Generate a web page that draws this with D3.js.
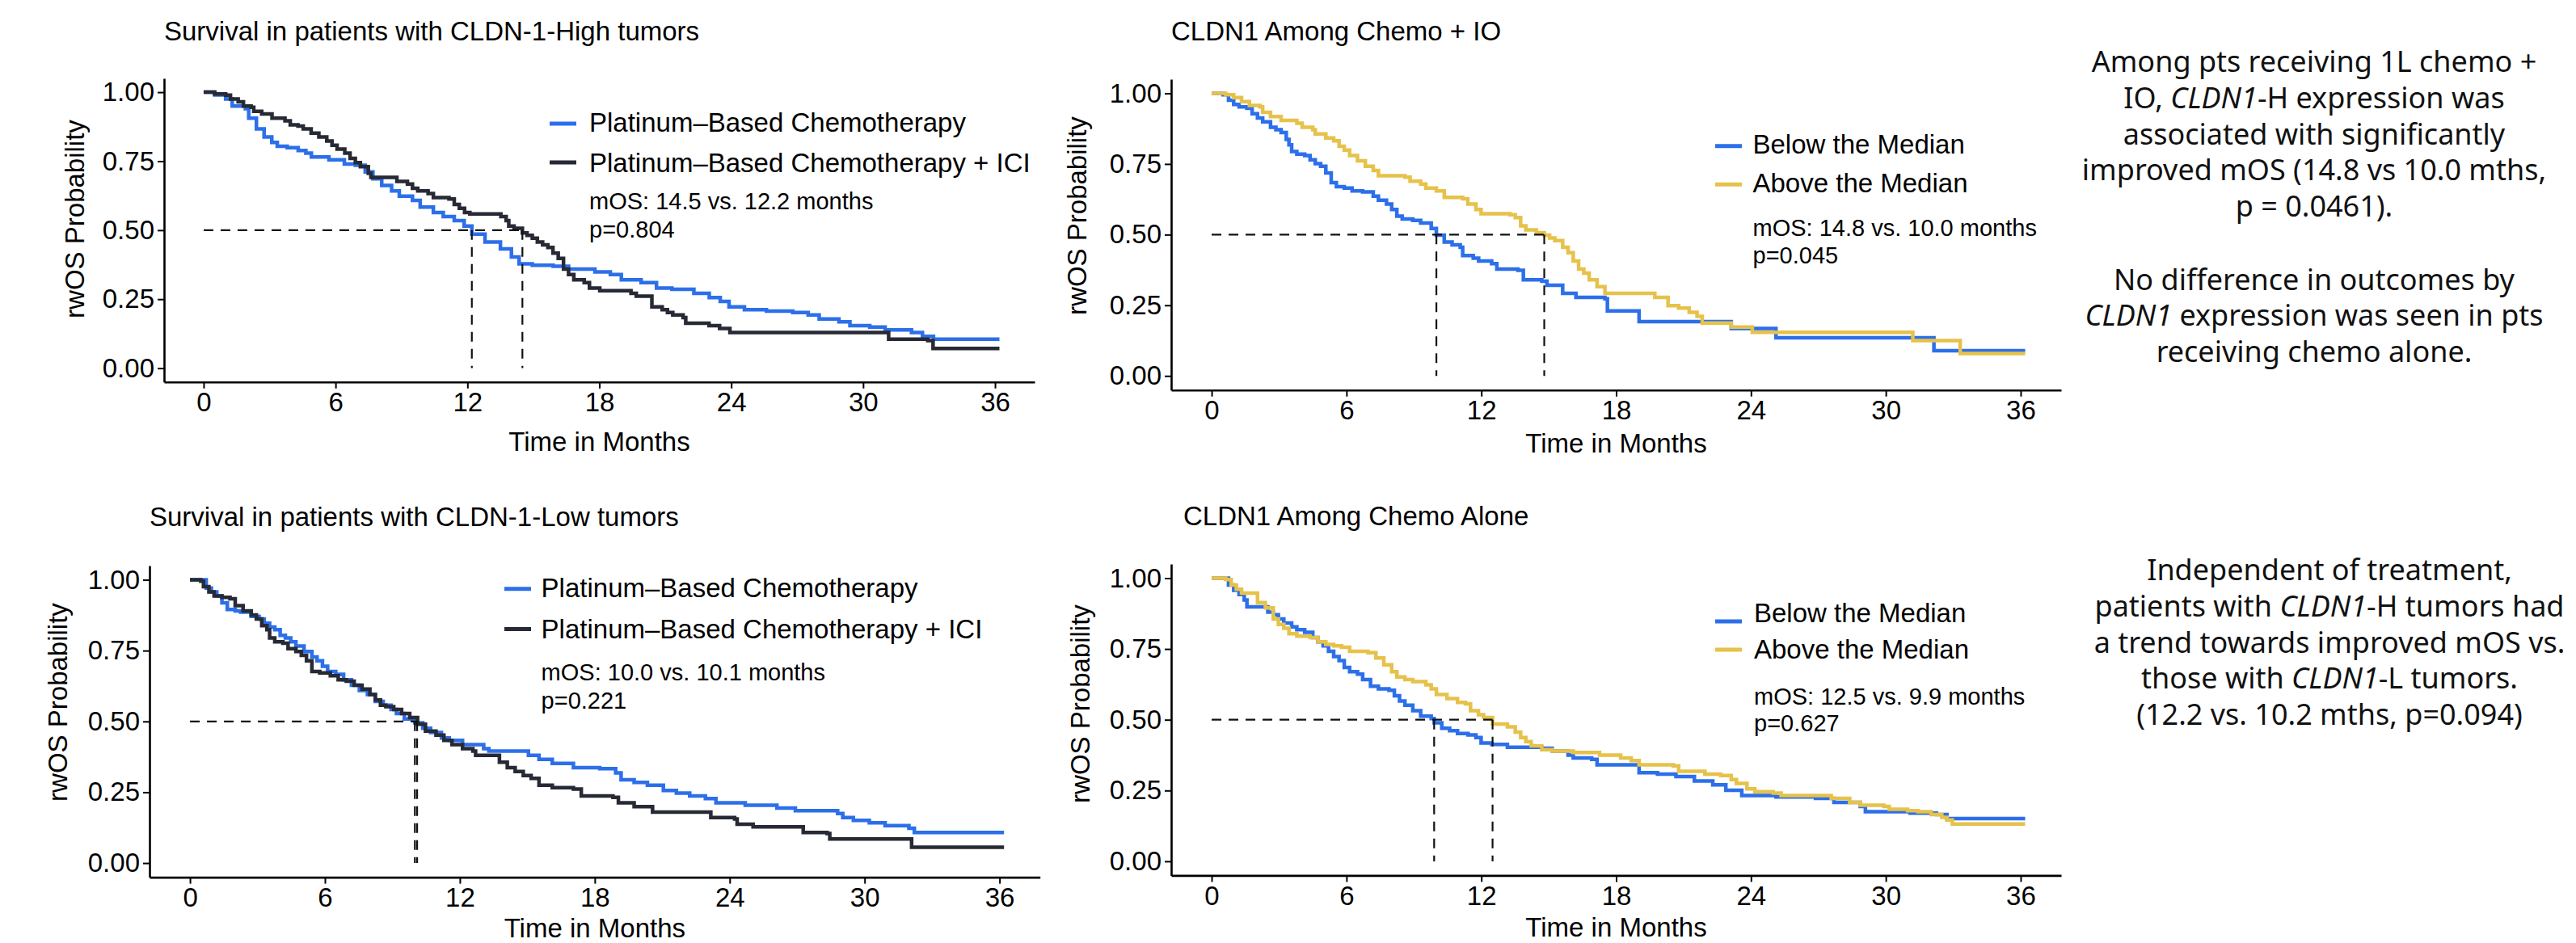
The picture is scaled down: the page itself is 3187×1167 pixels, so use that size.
<!DOCTYPE html>
<html>
<head>
<meta charset="utf-8">
<script src="https://cdn.jsdelivr.net/npm/d3@7"></script>
<style>
  body { margin: 0; background: #fff; }
  svg { display: block; }
</style>
</head>
<body>
<svg id="fig" width="3187" height="1167"></svg>
<script>
// tick labels
const months = [0, 6, 12, 18, 24, 30, 36];
const probTicks = [0, 0.25, 0.5, 0.75, 1];

// [month, survival] steps
// CLDN-1-High tumors
const hiChemo = [[0,1],[0.5,0.99],[1.0,0.975],[1.3,0.95],[1.9,0.94],[2.05,0.906],[2.4,0.867],[2.75,0.838],[3.1,0.818],[3.35,0.804],[3.8,0.799],[4.3,0.789],[4.65,0.779],[4.9,0.765],[5.7,0.755],[6.4,0.74],[6.9,0.735],[7.35,0.711],[7.7,0.686],[8.1,0.662],[8.55,0.642],[8.9,0.623],[9.5,0.608],[9.85,0.584],[10.45,0.564],[10.9,0.549],[11.4,0.535],[11.85,0.515],[12.2,0.486],[12.8,0.457],[13.5,0.432],[14.0,0.403],[14.35,0.378],[14.95,0.373],[15.9,0.369],[16.6,0.359],[17.8,0.349],[18.5,0.339],[19.0,0.32],[19.9,0.31],[20.6,0.29],[21.3,0.286],[22.3,0.271],[23.0,0.256],[23.5,0.242],[23.9,0.222],[24.6,0.212],[25.6,0.207],[26.8,0.202],[27.5,0.193],[28.0,0.178],[28.9,0.168],[29.4,0.154],[30.3,0.149],[31.0,0.139],[32.2,0.129],[32.7,0.115],[33.2,0.105],[36.2,0.105]];
const hiChemoICI = [[0,1],[0.5,0.994],[1.0,0.989],[1.22,0.975],[1.57,0.965],[1.81,0.95],[2.16,0.945],[2.28,0.931],[2.64,0.921],[3.11,0.906],[3.7,0.896],[3.94,0.882],[4.29,0.877],[4.53,0.867],[4.89,0.852],[5.24,0.838],[5.6,0.823],[5.84,0.808],[6.07,0.794],[6.42,0.779],[6.66,0.76],[6.9,0.745],[7.13,0.73],[7.49,0.706],[7.61,0.691],[8.79,0.677],[9.27,0.667],[9.5,0.652],[9.74,0.642],[10.21,0.633],[10.45,0.618],[11.16,0.613],[11.4,0.593],[11.63,0.579],[11.87,0.564],[12.11,0.559],[13.52,0.549],[13.76,0.535],[13.88,0.515],[14.12,0.507],[14.5,0.49],[14.71,0.481],[14.95,0.471],[15.18,0.457],[15.42,0.447],[15.66,0.437],[15.89,0.417],[16.13,0.398],[16.37,0.359],[16.6,0.339],[16.84,0.32],[17.31,0.31],[17.55,0.29],[18.02,0.281],[19.44,0.271],[19.68,0.261],[20.39,0.222],[20.86,0.212],[21.1,0.202],[21.34,0.193],[21.81,0.183],[21.93,0.163],[22.99,0.154],[23.47,0.144],[23.94,0.129],[31.16,0.105],[32.94,0.1],[33.18,0.071],[36.2,0.071]];
const hiMedians = [12.2, 14.5];

// CLDN1 among chemo + IO
const ioBelow = [[0,1],[0.51,0.995],[0.75,0.976],[0.98,0.961],[1.22,0.952],[1.57,0.947],[1.8,0.928],[2.04,0.913],[2.27,0.899],[2.62,0.88],[2.86,0.871],[3.09,0.861],[3.32,0.837],[3.44,0.818],[3.56,0.794],[3.79,0.785],[4.14,0.78],[4.38,0.765],[4.61,0.751],[4.85,0.742],[5.08,0.718],[5.32,0.684],[5.55,0.67],[5.9,0.665],[6.25,0.655],[6.72,0.651],[7.19,0.636],[7.42,0.622],[7.78,0.608],[8.01,0.589],[8.24,0.565],[8.48,0.555],[8.95,0.55],[9.3,0.541],[9.77,0.522],[10.0,0.498],[10.35,0.474],[10.7,0.464],[11.06,0.455],[11.17,0.426],[11.64,0.417],[11.88,0.407],[12.46,0.397],[12.69,0.378],[13.63,0.374],[13.87,0.34],[14.69,0.335],[14.92,0.321],[15.62,0.292],[16.21,0.278],[17.5,0.273],[17.61,0.23],[19.02,0.192],[23.12,0.168],[25.11,0.135],[32.14,0.089],[36.2,0.089]];
const ioAbove = [[0,1],[0.63,0.995],[0.98,0.985],[1.33,0.971],[1.68,0.957],[2.15,0.952],[2.27,0.933],[2.62,0.918],[3.09,0.904],[3.79,0.894],[4.03,0.88],[4.5,0.871],[4.61,0.856],[5.08,0.842],[5.43,0.832],[5.67,0.813],[5.9,0.799],[6.14,0.78],[6.49,0.761],[6.84,0.742],[7.19,0.727],[7.42,0.708],[8.6,0.703],[8.83,0.689],[9.3,0.679],[9.53,0.665],[10.0,0.655],[10.35,0.632],[11.17,0.627],[11.4,0.608],[11.76,0.589],[11.99,0.574],[13.28,0.57],[13.51,0.56],[13.75,0.531],[13.98,0.517],[14.45,0.507],[14.8,0.498],[15.04,0.488],[15.27,0.479],[15.62,0.455],[15.86,0.436],[16.09,0.407],[16.33,0.378],[16.56,0.364],[16.8,0.34],[17.15,0.316],[17.5,0.292],[19.72,0.278],[20.31,0.249],[20.78,0.24],[21.25,0.225],[21.6,0.211],[21.83,0.187],[23.12,0.173],[24.06,0.154],[31.2,0.125],[33.31,0.079],[36.2,0.079]];
const ioMedians = [10.0, 14.8];

// CLDN-1-Low tumors
const loChemo = [[0,1],[0.72,0.971],[0.95,0.957],[1.19,0.943],[1.42,0.919],[1.66,0.895],[2.01,0.89],[2.25,0.886],[2.72,0.871],[3.07,0.862],[3.3,0.847],[3.54,0.833],[3.77,0.824],[4.01,0.804],[4.24,0.795],[4.48,0.781],[4.71,0.766],[5.07,0.747],[5.42,0.728],[5.65,0.714],[5.89,0.695],[6.12,0.676],[6.48,0.666],[6.83,0.647],[7.18,0.628],[7.53,0.609],[7.89,0.595],[8.24,0.571],[8.59,0.557],[8.94,0.542],[9.18,0.528],[9.53,0.509],[10.0,0.495],[10.35,0.476],[10.7,0.461],[11.18,0.442],[11.53,0.433],[12.12,0.418],[13.06,0.404],[13.29,0.395],[15.05,0.38],[15.52,0.366],[16.11,0.352],[17.05,0.337],[18.22,0.333],[18.93,0.318],[19.17,0.294],[19.75,0.285],[20.34,0.275],[21.05,0.256],[21.63,0.247],[22.22,0.237],[22.92,0.228],[23.39,0.213],[24.69,0.204],[26.1,0.194],[26.92,0.185],[28.8,0.175],[29.03,0.161],[29.5,0.151],[30.21,0.142],[30.91,0.132],[31.97,0.123],[32.21,0.108],[36.2,0.108]];
const loChemoICI = [[0,1],[0.48,0.995],[0.6,0.976],[0.84,0.957],[1.07,0.943],[1.42,0.938],[1.78,0.933],[2.01,0.909],[2.36,0.89],[2.72,0.876],[2.95,0.862],[3.19,0.838],[3.42,0.824],[3.54,0.795],[3.77,0.781],[4.13,0.776],[4.36,0.757],[4.71,0.747],[4.95,0.733],[5.18,0.714],[5.42,0.676],[5.77,0.671],[6.24,0.661],[6.59,0.647],[6.95,0.642],[7.3,0.628],[7.65,0.614],[8.0,0.595],[8.24,0.576],[8.47,0.557],[8.71,0.552],[9.06,0.542],[9.41,0.528],[9.77,0.514],[10.12,0.49],[10.47,0.466],[10.94,0.452],[11.29,0.433],[11.65,0.418],[12.12,0.404],[12.58,0.395],[12.7,0.38],[13.76,0.356],[14.11,0.337],[14.46,0.323],[14.82,0.309],[15.17,0.299],[15.52,0.275],[16.11,0.266],[17.05,0.261],[17.4,0.237],[18.81,0.232],[19.05,0.213],[19.75,0.199],[20.57,0.18],[23.16,0.161],[24.22,0.156],[24.33,0.137],[25.04,0.128],[27.27,0.108],[28.33,0.104],[28.45,0.085],[32.09,0.056],[36.2,0.056]];
const loMedians = [10.0, 10.1];

// CLDN1 among chemo alone
const chemoBelow = [[0,1],[0.75,0.976],[0.98,0.957],[1.22,0.942],[1.45,0.923],[1.57,0.899],[2.5,0.88],[2.74,0.871],[2.97,0.856],[3.21,0.842],[3.56,0.828],[3.79,0.818],[4.14,0.809],[4.5,0.79],[4.73,0.775],[4.96,0.761],[5.2,0.742],[5.43,0.723],[5.67,0.709],[5.9,0.685],[6.14,0.67],[6.49,0.661],[6.72,0.642],[7.07,0.618],[7.42,0.609],[7.89,0.604],[8.13,0.585],[8.36,0.566],[8.6,0.551],[8.95,0.532],[9.3,0.513],[9.77,0.504],[9.9,0.489],[10.24,0.47],[10.59,0.461],[10.94,0.451],[11.41,0.446],[11.76,0.437],[11.99,0.418],[12.46,0.413],[13.16,0.403],[14.69,0.399],[15.15,0.389],[15.86,0.375],[16.09,0.365],[16.91,0.36],[17.15,0.341],[19.02,0.313],[19.84,0.308],[20.66,0.299],[21.48,0.284],[22.3,0.27],[22.88,0.251],[23.59,0.232],[25.11,0.227],[26.87,0.222],[27.69,0.208],[28.86,0.194],[29.09,0.175],[31.08,0.17],[32.25,0.165],[32.72,0.151],[36.2,0.151]];
const chemoAbove = [[0,1],[0.63,0.995],[0.87,0.976],[1.1,0.961],[1.33,0.947],[2.04,0.914],[2.39,0.895],[2.74,0.856],[2.97,0.837],[3.21,0.823],[3.44,0.804],[3.79,0.795],[4.38,0.79],[4.73,0.775],[5.08,0.766],[5.43,0.761],[5.78,0.756],[6.14,0.742],[6.96,0.737],[7.31,0.718],[7.66,0.694],[8.01,0.67],[8.24,0.651],[8.6,0.642],[8.95,0.635],[9.53,0.623],[9.77,0.609],[10.0,0.589],[10.47,0.575],[10.94,0.561],[11.29,0.556],[11.52,0.532],[11.87,0.518],[12.1,0.508],[12.5,0.485],[13.16,0.475],[13.51,0.456],[13.75,0.437],[13.98,0.423],[14.22,0.408],[14.69,0.394],[15.15,0.389],[16.09,0.384],[17.26,0.375],[18.2,0.365],[18.67,0.356],[19.02,0.341],[20.54,0.337],[20.78,0.318],[21.95,0.308],[22.65,0.303],[23.12,0.289],[23.35,0.275],[23.82,0.256],[24.17,0.246],[24.99,0.241],[25.34,0.232],[27.57,0.222],[28.39,0.208],[28.86,0.198],[29.91,0.194],[30.15,0.184],[30.97,0.179],[31.43,0.175],[32.02,0.165],[32.49,0.155],[32.72,0.146],[32.96,0.132],[36.2,0.132]];
const chemoMedians = [9.9, 12.5];

const treatLabels = ['Platinum\u2013Based Chemotherapy', 'Platinum\u2013Based Chemotherapy + ICI'];
const exprLabels = ['Below the Median', 'Above the Median'];

// side notes, *...* = italic
const note1 = ['Among pts receiving 1L chemo +', 'IO, *CLDN1*-H expression was', 'associated with significantly', 'improved mOS (14.8 vs 10.0 mths,', 'p = 0.0461).'];
const note2 = ['No difference in outcomes by', '*CLDN1* expression was seen in pts', 'receiving chemo alone.'];
const note3 = ['Independent of treatment,', 'patients with *CLDN1*-H tumors had', 'a trend towards improved mOS vs.', 'those with *CLDN1*-L tumors.', '(12.2 vs. 10.2 mths, p=0.094)'];

const BLUE = '#2c6fe9', DARK = '#272a35', GOLD = '#e6c24b';
const FONT = '"Liberation Sans", Arial, Helvetica, sans-serif';

const svg = d3.select('#fig');

const panels = [
  { box: [203, 1280, 97, 472.7], title: 'Survival in patients with CLDN-1-High tumors', titlePos: [203, 50],
    series: [hiChemo, hiChemoICI], colors: [BLUE, DARK], labels: treatLabels, medians: hiMedians,
    yLab: [103.5, 271], xLabY: 558,
    keyX: 680, keyY: [153, 201], legX: 729, legY: [163, 213],
    notes: ['mOS: 14.5 vs. 12.2 months', 'p=0.804'], noteY: [259, 294] },
  { box: [1449, 2550, 98, 482.7], title: 'CLDN1 Among Chemo + IO', titlePos: [1449, 50],
    series: [ioBelow, ioAbove], colors: [BLUE, GOLD], labels: exprLabels, medians: ioMedians,
    yLab: [1344, 267], xLabY: 560,
    keyX: 2122, keyY: [180.7, 228.3], legX: 2168.5, legY: [189.5, 237.5],
    notes: ['mOS: 14.8 vs. 10.0 months', 'p=0.045'], noteY: [292, 325.5] },
  { box: [185, 1286.7, 700, 1085.6], title: 'Survival in patients with CLDN-1-Low tumors', titlePos: [185, 650.6],
    series: [loChemo, loChemoICI], colors: [BLUE, DARK], labels: treatLabels, medians: loMedians,
    yLab: [83.4, 869], xLabY: 1160,
    keyX: 624, keyY: [728.7, 778.6], legX: 669.6, legY: [738.7, 789.7],
    notes: ['mOS: 10.0 vs. 10.1 months', 'p=0.221'], noteY: [842.2, 877.4] },
  { box: [1449, 2550, 698, 1083.4], title: 'CLDN1 Among Chemo Alone', titlePos: [1464, 650],
    series: [chemoBelow, chemoAbove], colors: [BLUE, GOLD], labels: exprLabels, medians: chemoMedians,
    yLab: [1348, 871], xLabY: 1158.5,
    keyX: 2122, keyY: [769, 804], legX: 2170, legY: [770, 815],
    notes: ['mOS: 12.5 vs. 9.9 months', 'p=0.627'], noteY: [871.7, 905] }
];

panels.forEach(drawPanel);

function drawPanel(p) {
  const [left, right, top, bottom] = p.box;
  const x = d3.scaleLinear().domain([-1.8, 37.8]).range([left, right]);
  const y = d3.scaleLinear().domain([-0.05, 1.05]).range([bottom, top]);
  const g = svg.append('g');

  g.append('text')
    .attr('x', p.titlePos[0]).attr('y', p.titlePos[1])
    .style('font-family', FONT).style('font-size', '33px')
    .text(p.title);

  const line = d3.line().x(d => x(d[0])).y(d => y(d[1])).curve(d3.curveStepAfter);
  p.series.forEach((s, i) => {
    g.append('path').datum(s)
      .attr('d', line)
      .attr('fill', 'none')
      .attr('stroke', p.colors[i])
      .attr('stroke-width', 4.5);
  });

  // median guides
  const dash = g.append('g').attr('stroke', '#111').attr('stroke-width', 2.2).attr('stroke-dasharray', '12,9');
  dash.append('line')
    .attr('x1', x(0)).attr('x2', x(d3.max(p.medians)))
    .attr('y1', y(0.5)).attr('y2', y(0.5));
  dash.selectAll('line.v').data(p.medians).enter().append('line')
    .attr('class', 'v')
    .attr('x1', d => x(d)).attr('x2', d => x(d))
    .attr('y1', y(0.5)).attr('y2', y(0));

  const xAxis = g.append('g')
    .attr('transform', `translate(0,${bottom})`)
    .call(d3.axisBottom(x).tickValues(months).tickSize(8).tickSizeOuter(0).tickPadding(5));
  const yAxis = g.append('g')
    .attr('transform', `translate(${left},0)`)
    .call(d3.axisLeft(y).tickValues(probTicks).tickFormat(d3.format('.2f')).tickSize(8).tickSizeOuter(0).tickPadding(4));
  [xAxis, yAxis].forEach(a => {
    a.attr('font-family', FONT).attr('font-size', 33);
    a.select('.domain').attr('stroke', '#000').attr('stroke-width', 2.6);
    a.selectAll('.tick line').attr('stroke', '#000').attr('stroke-width', 2);
    a.selectAll('.tick text').attr('fill', '#000');
  });

  g.append('text')
    .attr('x', x(18)).attr('y', p.xLabY)
    .attr('text-anchor', 'middle')
    .style('font-family', FONT).style('font-size', '33px')
    .text('Time in Months');

  g.append('text')
    .attr('transform', `translate(${p.yLab[0]},${p.yLab[1]}) rotate(-90)`)
    .attr('text-anchor', 'middle')
    .style('font-family', FONT).style('font-size', '33px')
    .text('rwOS Probability');

  // legend
  p.labels.forEach((lab, i) => {
    g.append('line')
      .attr('x1', p.keyX).attr('x2', p.keyX + 33)
      .attr('y1', p.keyY[i]).attr('y2', p.keyY[i])
      .attr('stroke', p.colors[i]).attr('stroke-width', 5);
    g.append('text')
      .attr('x', p.legX).attr('y', p.legY[i])
      .style('font-family', FONT).style('font-size', '33px')
      .text(lab);
  });
  p.notes.forEach((t, i) => {
    g.append('text')
      .attr('x', p.legX).attr('y', p.noteY[i])
      .style('font-family', FONT).style('font-size', '29px')
      .text(t);
  });
}

// side notes
function drawNote(lines, cx, y0) {
  lines.forEach((str, i) => {
    const t = svg.append('text')
      .attr('x', cx).attr('y', y0 + i * 44.7)
      .attr('text-anchor', 'middle')
      .style('font-family', '"Noto Sans", "Open Sans", sans-serif')
      .style('font-size', '36px')
      .attr('fill', '#111');
    str.split('*').forEach((part, k) => {
      if (!part) return;
      t.append('tspan').text(part).style('font-style', k % 2 ? 'italic' : null);
    });
  });
}
drawNote(note1, 2863, 89.3);
drawNote(note2, 2863, 358.7);
drawNote(note3, 2882, 718.2);
</script>
</body>
</html>
